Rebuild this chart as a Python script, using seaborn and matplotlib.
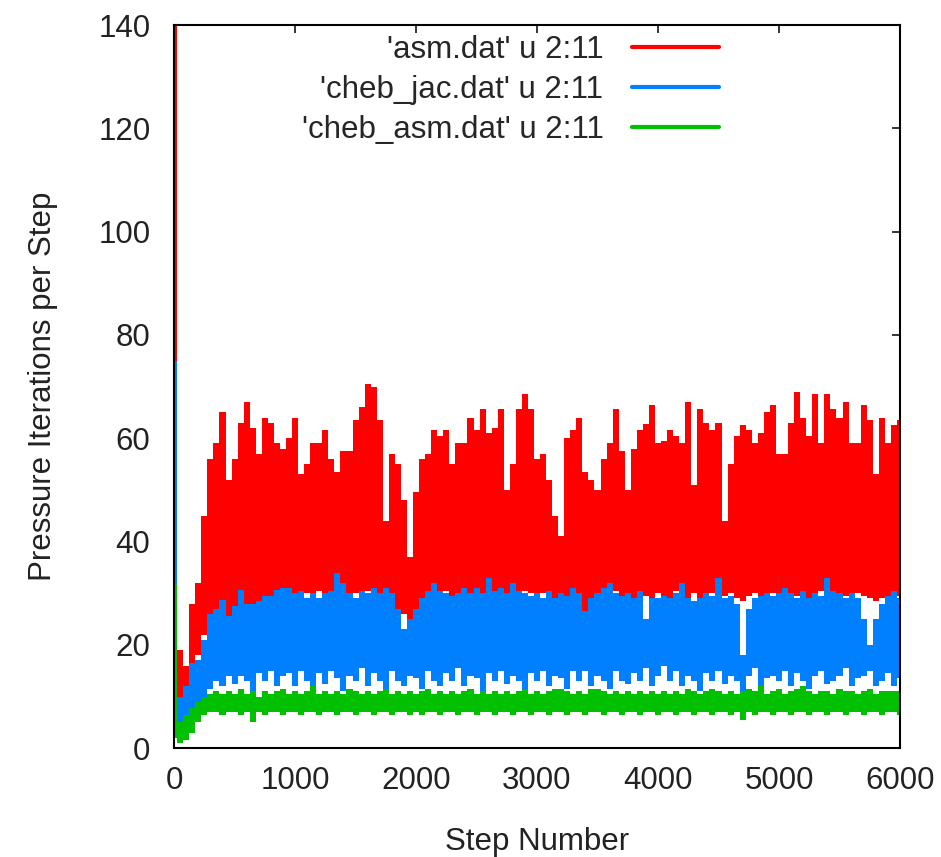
import numpy as np
import pandas as pd
import matplotlib
matplotlib.use('Agg')
import matplotlib.pyplot as plt
from matplotlib.lines import Line2D
import seaborn as sns

# muestreo cada 50 pasos, envolventes (max / min por tramo)
step = np.arange(0, 6001, 50)

asm_hi = [140, 19, 16, 28, 32, 45, 56, 59, 65, 52,
          56, 63, 67, 62, 57, 64, 63, 59, 58, 60,
          64, 53, 55, 59, 59, 61.5, 56, 53.5, 57.5, 57.5,
          63.5, 66, 70.5, 70, 63.5, 44, 57, 55, 48, 37,
          49.5, 56, 57, 61.5, 60.5, 61.5, 55, 59, 59, 64,
          61.5, 65.6, 61, 62, 65.6, 50, 55, 65.6, 68.5, 65.6,
          56, 57, 52, 45, 41, 60, 61.5, 64, 53.5, 52,
          50, 56, 59, 65.6, 57.5, 50, 58, 61.5, 62.7, 66.4,
          59, 59.5, 61.5, 60.5, 59, 67, 51, 65.6, 63, 61.5,
          63, 44, 55, 60.5, 62.5, 61.5, 59, 61, 65, 66.4,
          57, 57, 63, 69, 64, 60.5, 68.5, 59, 68.5, 65.6,
          64, 67, 59, 59, 66.4, 63.5, 53, 64, 59, 62.5,
          63.5]
asm_lo = [10, 8, 7, 12, 18, 22, 25, 25, 22, 23,
          24, 26, 27, 27, 28, 28, 29, 29, 29.5, 29,
          30, 29.5, 30, 29, 30.5, 29.5, 30, 29, 30, 29.5,
          30, 29, 30.5, 29.5, 29, 29.5, 28, 27, 26, 25,
          26, 28, 29.5, 30, 29, 30.5, 29.5, 30, 29, 30,
          31, 29.5, 30, 29, 30.5, 29.5, 30, 29, 30.5, 30,
          29.5, 30, 29, 28.5, 28, 29.5, 30, 29, 26, 28.5,
          29.5, 30, 29, 30.5, 29.5, 30, 29, 30, 29.5, 29,
          30, 29.5, 29, 30.5, 29.5, 29, 30, 28.5, 29.5, 30,
          29, 29.5, 30, 29, 28.5, 29.5, 30, 29, 29.5, 30,
          29.5, 29, 30, 29.5, 30, 29, 29.5, 30.5, 29, 29.5,
          30, 29.5, 29, 30, 29.5, 29, 28.5, 29, 29.5, 29,
          29.5]

jac_hi = [75, 10, 12, 16.5, 17, 21, 26, 27, 28.7, 25.5,
          27.5, 30.7, 28, 28, 28.5, 29.5, 29.5, 30.7, 31, 31,
          30, 30.5, 29, 30, 29, 30, 30.5, 34, 32, 30,
          29, 30.5, 30, 31, 30, 31, 30, 27, 23, 25,
          27, 29, 30.5, 32, 30.5, 30, 29.5, 30, 31, 30,
          31, 30, 33, 30.5, 31, 30, 32, 30.5, 30, 29.5,
          30, 29, 30.5, 29, 30, 29.5, 31, 30, 26.5, 29,
          30, 31, 32, 30, 29.5, 30, 29, 30.5, 25, 29,
          29, 29.5, 29, 30, 32, 29, 28.5, 29, 30, 29.5,
          33, 29, 29.5, 28, 18, 27, 29, 29.5, 30, 29.5,
          30, 31, 30, 29, 30.5, 29, 30, 29.5, 33, 30.5,
          30, 29, 30, 29, 25, 20, 25, 28, 29.5, 30.5,
          29]
jac_lo = [4, 4.5, 5, 6.5, 8.5, 10, 11.5, 13, 12, 14,
          12.5, 14, 13, 11, 14.5, 13, 15, 12, 14, 14.5,
          12, 15, 13, 11.5, 14.5, 12.5, 15, 13.5, 11, 14,
          13, 15.5, 12, 14.5, 13, 11.5, 15, 13, 12, 14,
          13.5, 11.5, 15, 13, 12, 14.5, 13, 15.5, 12, 14,
          13.5, 11, 14.5, 13, 15, 12.5, 14, 13, 11.5, 14.5,
          13, 15, 12, 14, 13.5, 11.5, 15, 13, 15, 12,
          14, 13, 11.5, 15, 13, 12.5, 14.5, 13, 15.5, 12,
          14, 16, 13, 15, 12, 14, 13, 11, 14.5, 13,
          15, 12.5, 14, 13, 11, 14, 15.5, 12, 13.5, 14,
          13, 15, 12, 14.5, 13, 11.5, 14, 15, 12.5, 13,
          14, 15.5, 12, 13.5, 14, 15, 12, 13, 14.5, 12,
          13.5]

casm_hi = [32, 5, 6.5, 7.8, 9, 10, 10.5, 11, 10.5, 11,
           10.5, 11.5, 10.5, 11, 10, 11, 10.5, 11, 11.5, 10.5,
           11, 10.5, 11, 12, 10.5, 11, 10.5, 11, 10.5, 11.5,
           11, 10.5, 11, 10.5, 11, 11.5, 10.5, 11, 10.5, 11,
           10.5, 11, 11.5, 10.5, 11, 10.5, 11, 10.5, 11, 11.5,
           10.5, 11, 10.5, 11, 10.5, 11, 10.5, 11, 11.5, 10.5,
           11, 10.5, 11, 11.5, 11.5, 11, 10.5, 11, 10.5, 11.5,
           11.5, 11, 10.5, 11, 10.5, 11, 10.5, 11, 10.5, 11,
           10.5, 11, 10.5, 11, 10.5, 11.5, 11, 10.5, 11, 11.5,
           11, 10.5, 11, 10.5, 11, 11.5, 11, 12, 10.5, 11,
           11.5, 10.5, 11, 11.5, 12, 11, 10.5, 11, 11, 10.5,
           11.5, 11, 11, 10.5, 11, 11.5, 10.5, 11, 11, 11,
           11]
casm_lo = [2, 1, 1.5, 3, 5, 6.5, 7, 7, 6.5, 7,
           7, 6.5, 7, 5, 7, 6.5, 7, 7, 6.5, 7,
           7, 6.5, 7, 7, 6.5, 7, 7, 6.5, 7, 7,
           6.5, 7, 7, 6.5, 7, 7, 6.5, 7, 7, 6.5,
           7, 6.5, 7, 7, 6.5, 7, 7, 6.5, 7, 7,
           6.5, 7, 7, 6.5, 7, 7, 6.5, 7, 7, 6.5,
           7, 7, 6.5, 7, 7, 6.5, 7, 7, 6.5, 7,
           7, 6.5, 7, 7, 6.5, 7, 7, 6.5, 7, 7,
           6.5, 7, 7, 6.5, 7, 7, 6.5, 7, 7, 6.5,
           7, 7, 6.5, 7, 5.5, 7, 6.5, 7, 7, 6.5,
           7, 7, 6.5, 7, 7, 6.5, 7, 7, 6.5, 7,
           7, 6.5, 7, 7, 6.5, 7, 7, 6.5, 7, 7,
           6.5]

nombres = ["'asm.dat' u 2:11", "'cheb_jac.dat' u 2:11", "'cheb_asm.dat' u 2:11"]
colores = ['#ff0000', '#0080ff', '#00c000']

partes = []
for nombre, hi, lo in zip(nombres, [asm_hi, jac_hi, casm_hi], [asm_lo, jac_lo, casm_lo]):
    partes.append(pd.DataFrame({'step': np.concatenate([step, step]),
                                'iters': np.concatenate([hi, lo]),
                                'serie': nombre}))
df = pd.concat(partes, ignore_index=True)

sns.set_style('white')
plt.rcParams['font.family'] = ['Liberation Sans', 'DejaVu Sans']
plt.rcParams['font.size'] = 22.5

fig = plt.figure(figsize=(9.41, 8.57), dpi=100)
ax = fig.add_axes([0.185, 0.127, 0.7714, 0.8438])

# banda min-max por serie (errorbar pi 100), la linea central no se ve
sns.lineplot(data=df, x='step', y='iters', hue='serie', hue_order=nombres,
             palette=colores, estimator='mean', errorbar=('pi', 100),
             err_kws={'alpha': 1, 'step': 'mid', 'linewidth': 0},
             linewidth=0, legend=False, ax=ax)

ax.set_xlim(0, 6000)
ax.set_ylim(0, 140)
ax.set_xticks(range(0, 6001, 1000))
ax.set_yticks(range(0, 141, 20))
ax.tick_params(direction='in', length=6, width=1.1, top=True, right=True,
               colors='black', labelcolor='#222222')
ax.tick_params(axis='y', pad=17)
ax.tick_params(axis='x', pad=13)
for s in ax.spines.values():
    s.set_visible(True)
    s.set_color('black')
    s.set_linewidth(1.5)

ax.set_xlabel('Step Number', labelpad=22, color='#222222')
ax.set_ylabel('Pressure Iterations per Step', labelpad=29, color='#222222')

manejadores = [Line2D([], [], color=c, lw=3) for c in colores]
ax.legend(manejadores, nombres, loc='upper right', bbox_to_anchor=(0.755, 0.99),
          frameon=False, markerfirst=False, handlelength=2.8, handletextpad=0.9,
          labelspacing=0.32, borderpad=0.1, borderaxespad=0.0, fontsize=22.5)

fig.savefig('out.png', dpi=100)
